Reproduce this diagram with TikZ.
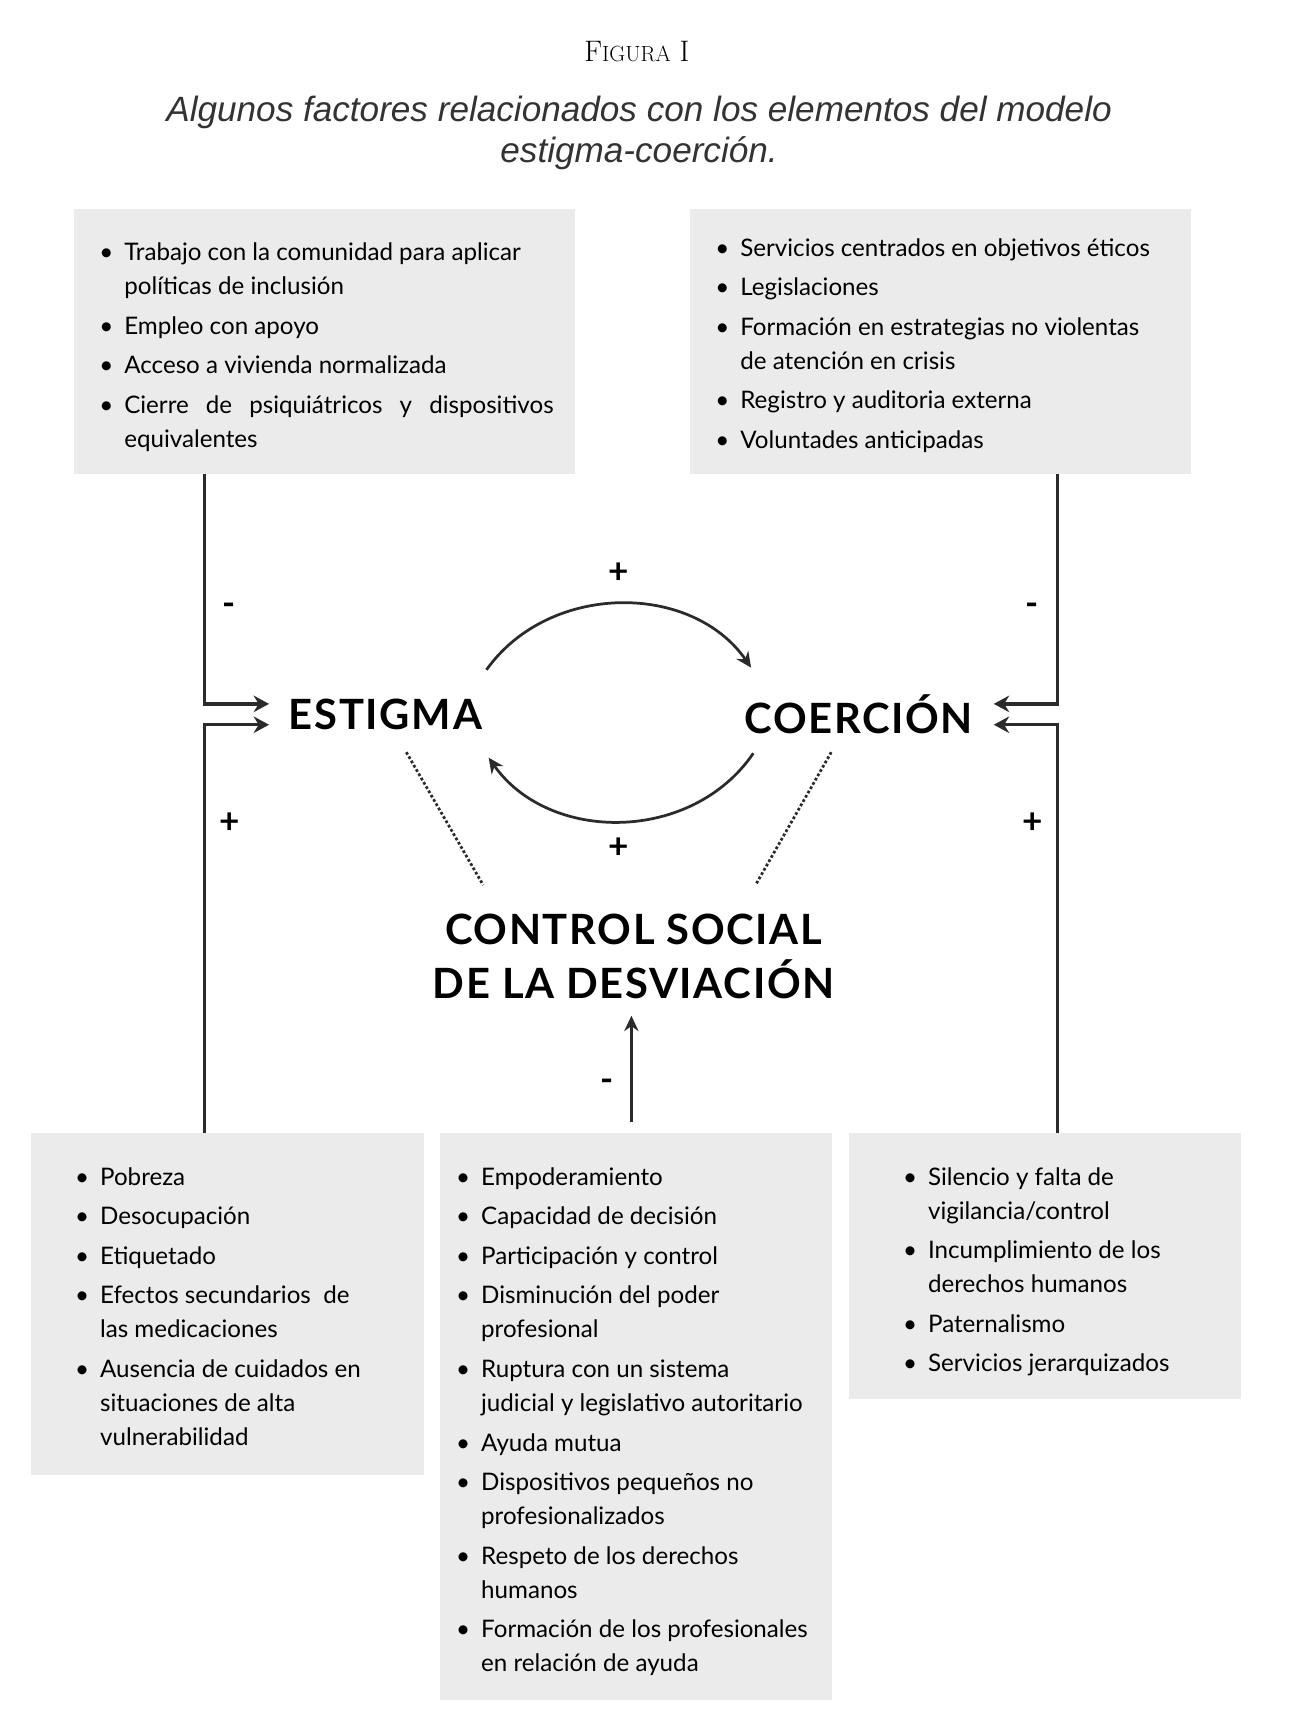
\documentclass[tikz,border=0pt]{standalone}
\usepackage{fontspec}
\setmainfont{Lato}
\newfontfamily\serifff{Latin Modern Roman}
\newfontfamily\helv{Liberation Sans}
\usepackage{enumitem}
\usetikzlibrary{arrows.meta}
\definecolor{boxgray}{HTML}{EBEBEB}
\definecolor{lin}{HTML}{2B2B2B}
\tikzset{
 x=1pt,y=-1pt,
 fbox/.style={fill=boxgray,draw=none},
 txt/.style={anchor=north west,inner sep=0,align=left,font=\fontsize{22}{31}\selectfont},
 big/.style={font=\bfseries\fontsize{38}{50}\selectfont,inner sep=0},
 conn/.style={line width=3pt,draw=lin},
 sign/.style={font=\bfseries\fontsize{32}{32}\selectfont,inner sep=0},
 arr/.style={conn,-{Stealth[length=14pt,width=15pt]}},
}
\newcommand{\blist}[2]{\begin{minipage}{#1}\begin{itemize}[leftmargin=23pt,labelsep=10pt,itemsep=5pt,topsep=0pt,parsep=0pt,partopsep=0pt]#2\end{itemize}\end{minipage}}
\begin{document}
\begin{tikzpicture}
\useasboundingbox[fill=white] (0,0) rectangle (1190,1570);
\node (fig) at (580,47) {\serifff\fontsize{27}{30}\selectfont F{\fontsize{20}{30}\selectfont IGURA} I};
\node[align=center,text=black!80,font=\helv\itshape\fontsize{32}{38}\selectfont] (sub) at (582,121) {Algunos factores relacionados con los elementos del modelo\\estigma-coerción.};
% boxes
\fill[fbox] (67,190) rectangle (524,432);
\fill[fbox] (628,190) rectangle (1085,432);
\fill[fbox] (28,1032) rectangle (386,1343);
\fill[fbox] (401,1032) rectangle (758,1548);
\fill[fbox] (773,1032) rectangle (1130,1274);
\node[txt] (tl) at (90,221) {\blist{414pt}{\item Trabajo con la comunidad para aplicar\newline políticas de inclusión
\item Empleo con apoyo
\item Acceso a vivienda normalizada
\item Cierre de psiquiátricos y dispositivos\linebreak equivalentes}};
\node[txt] (tr) at (651,217) {\blist{430pt}{\raggedright\item Servicios centrados en objetivos éticos
\item Legislaciones
\item Formación en estrategias no violentas\newline de atención en crisis
\item Registro y auditoria externa
\item Voluntades anticipadas}};
\node[txt] (bl) at (68,1063) {\blist{310pt}{\raggedright\item Pobreza
\item Desocupación
\item Etiquetado
\item Efectos secundarios\ \ de\newline las medicaciones
\item Ausencia de cuidados en\newline situaciones de alta\newline vulnerabilidad}};
\node[txt] (bm) at (415,1063) {\blist{345pt}{\raggedright\item Empoderamiento
\item Capacidad de decisión
\item Participación y control
\item Disminución del poder\newline profesional
\item Ruptura con un sistema\newline judicial y legislativo autoritario
\item Ayuda mutua
\item Dispositivos pequeños no\newline profesionalizados
\item Respeto de los derechos\newline humanos
\item Formación de los profesionales\newline en relación de ayuda}};
\node[txt] (br) at (822,1063) {\blist{305pt}{\raggedright\item Silencio y falta de\newline vigilancia/control
\item Incumplimiento de los\newline derechos humanos
\item Paternalismo
\item Servicios jerarquizados}};
% central nodes
\node[big] (est) at (351,651) {\addfontfeature{LetterSpace=4}ESTIGMA};
\node[big] (coe) at (782,650) {\addfontfeature{LetterSpace=4}COERCIÓN};
\node[big,align=center] (csd) at (577,871) {\addfontfeature{LetterSpace=4}CONTROL SOCIAL\\\addfontfeature{LetterSpace=4}DE LA DESVIACIÓN};
% side connectors
\coordinate (l1) at (186,432); \coordinate (l2) at (186,1032);
\coordinate (r1) at (963,432); \coordinate (r2) at (963,1032);
\draw[arr] (l1) |- (245,641);
\draw[arr] (l2) |- (245,660);
\draw[arr] (r1) |- (905,641);
\draw[arr] (r2) |- (905,660);
\node[sign] (s1) at (209,555) {-};
\node[sign] (s2) at (209,750) {+};
\node[sign] (s3) at (940,555) {-};
\node[sign] (s4) at (940,750) {+};
% cycle arcs
\draw[conn,line width=2.5pt,-{Stealth[length=14pt,width=13pt]}] (443,610) .. controls (500,530) and (630,530) .. (684,608);
\draw[conn,line width=2.5pt,-{Stealth[length=14pt,width=13pt]}] (686,686) .. controls (630,768) and (500,768) .. (445,690);
\node[sign] (p1) at (563,522) {+};
\node[sign] (p2) at (563,772) {+};
% dotted
\draw[line width=2.5pt,dotted,draw=lin] (370,685) -- (440,806);
\draw[line width=2.5pt,dotted,draw=lin] (757,685) -- (688,806);
% bottom arrow
\coordinate (ba) at (575,1022);
\draw[conn,line width=2.5pt,-{Stealth[length=14pt,width=13pt]}] (ba) -- (575,925);
\node[sign] (m) at (553,988) {-};
\end{tikzpicture}
\end{document}
